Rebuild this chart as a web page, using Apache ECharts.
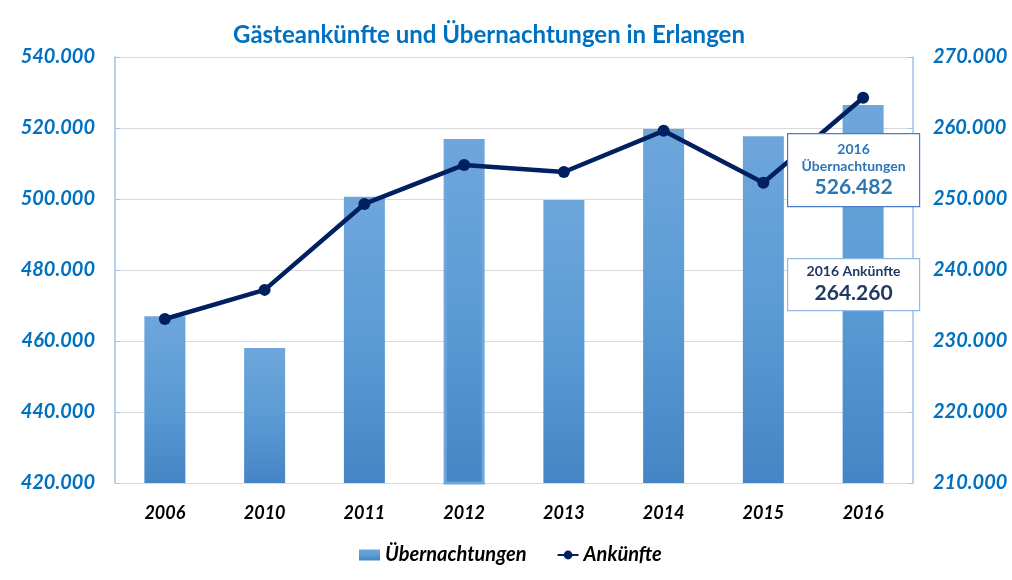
<!DOCTYPE html>
<html><head><meta charset="utf-8">
<script src="https://cdn.jsdelivr.net/npm/echarts@6/dist/echarts.min.js"></script>
<style>html,body{margin:0;padding:0;background:#fff}#c{width:1012px;height:580px}</style>
</head><body><div id="c"></div>
<script>
const years = ['2006','2010','2011','2012','2013','2014','2015','2016'];
const uebernachtungen = [467000, 458000, 500600, 516900, 499700, 519700, 517700, 526482];
const ankuenfte = [233100, 237200, 249300, 254800, 253800, 259600, 252300, 264260];
const leftTicks = {min: 420000, max: 540000, interval: 20000};
const rightTicks = {min: 210000, max: 270000, interval: 10000};
const titleText = 'Gästeankünfte und Übernachtungen in Erlangen';
const seriesNames = ['Übernachtungen', 'Ankünfte'];

const fmt = v => String(Math.round(v)).replace(/\B(?=(\d{3})+(?!\d))/g, '.');
const FONT = 'Lato';
const chart = echarts.init(document.getElementById('c'));
const barGrad = new echarts.graphic.LinearGradient(0,0,0,1,[{offset:0,color:'#6ea6db'},{offset:0.5,color:'#5b9bd5'},{offset:1,color:'#4585c5'}]);
const lastIdx = years.length - 1;
chart.setOption({
  animation: false,
  textStyle: {fontFamily: FONT},
  title: {text: titleText, left: 228, top: 18, textStyle: {color:'#0070C0', fontSize: 24, fontWeight:'bold', fontFamily: FONT}},
  legend: {
    bottom: 10, left: 354, itemGap: 30, itemWidth: 21, itemHeight: 11,
    textStyle: {fontSize: 20, fontWeight: 'bold', fontStyle: 'italic', color: '#000', fontFamily: FONT},
    data: [{name: seriesNames[0], icon: 'rect'}, {name: seriesNames[1]}]
  },
  grid: {left: 115, right: 99, top: 57, bottom: 97},
  xAxis: {
    type: 'category', data: years,
    axisLine: {lineStyle: {color: '#d9d9d9'}}, axisTick: {show: false},
    axisLabel: {color: '#000', fontSize: 18, fontWeight: 'bold', fontStyle: 'italic', margin: 21, fontFamily: FONT}
  },
  yAxis: [{
    type: 'value', min: leftTicks.min, max: leftTicks.max, interval: leftTicks.interval,
    axisLine: {show: true, lineStyle: {color: '#9dc3e6', width: 1.5}},
    axisTick: {show: true, inside: true, length: 5, lineStyle: {color: '#9dc3e6'}},
    splitLine: {lineStyle: {color: '#d9d9d9'}},
    axisLabel: {color: '#0070C0', fontSize: 20, fontWeight: 'bold', fontStyle: 'italic', margin: 20, formatter: fmt, fontFamily: FONT}
  }, {
    type: 'value', min: rightTicks.min, max: rightTicks.max, interval: rightTicks.interval,
    axisLine: {show: true, lineStyle: {color: '#9dc3e6', width: 1.5}},
    axisTick: {show: true, inside: true, length: 5, lineStyle: {color: '#9dc3e6'}},
    splitLine: {show: false},
    axisLabel: {color: '#0070C0', fontSize: 20, fontWeight: 'bold', fontStyle: 'italic', margin: 20, formatter: fmt, fontFamily: FONT}
  }],
  series: [{
    name: seriesNames[0], type: 'bar', yAxisIndex: 0, barWidth: 41,
    itemStyle: {color: barGrad},
    data: uebernachtungen.map((v, i) => i === 3 ? {value: v, itemStyle: {borderColor: '#6fa6da', borderWidth: 3}} : v),
    z: 2
  }, {
    name: seriesNames[1], type: 'line', yAxisIndex: 1,
    lineStyle: {color: '#002060', width: 4.5}, itemStyle: {color: '#002060'},
    symbol: 'circle', symbolSize: 12, data: ankuenfte, z: 3
  }],
  graphic: [
    {type: 'group', left: 787, top: 133, z: 100, children: [
      {type: 'rect', z: 100, shape: {x:0, y:0, width: 132, height: 73}, style: {fill: '#ffffff', stroke: '#4a7cc9', lineWidth: 1.2}},
      {type: 'text', z: 101, x: 66, y: 9, style: {text: years[lastIdx], align: 'center', fill: '#2e75b6', font: 'bold 14px ' + FONT}},
      {type: 'text', z: 101, x: 66, y: 26, style: {text: seriesNames[0], align: 'center', fill: '#2e75b6', font: 'bold 14px ' + FONT}},
      {type: 'text', z: 101, x: 66, y: 43, style: {text: fmt(uebernachtungen[lastIdx]), align: 'center', fill: '#2e75b6', font: 'bold 21px ' + FONT}}
    ]},
    {type: 'group', left: 787, top: 258, z: 100, children: [
      {type: 'rect', z: 100, shape: {x:0, y:0, width: 132, height: 52}, style: {fill: '#ffffff', stroke: '#8fbbe6', lineWidth: 1.2}},
      {type: 'text', z: 101, x: 66, y: 6, style: {text: years[lastIdx] + ' ' + seriesNames[1], align: 'center', fill: '#1f3864', font: 'bold 14px ' + FONT}},
      {type: 'text', z: 101, x: 66, y: 24, style: {text: fmt(ankuenfte[lastIdx]), align: 'center', fill: '#1f3864', font: 'bold 21px ' + FONT}}
    ]}
  ]
});
</script></body></html>
